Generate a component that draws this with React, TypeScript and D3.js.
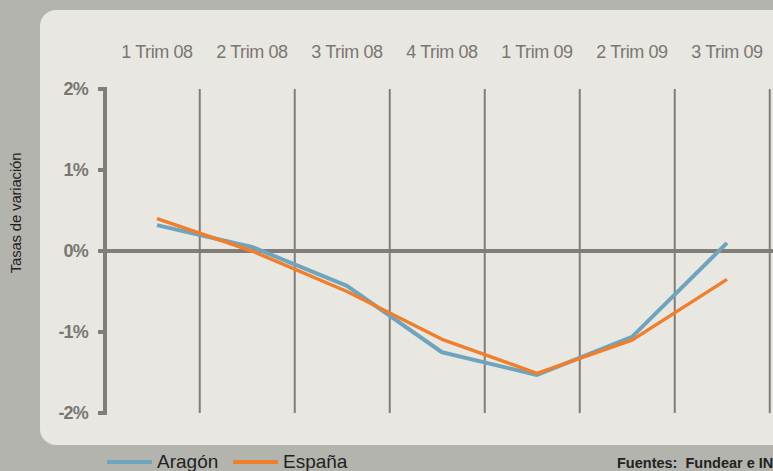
import React from "react";
import * as d3 from "d3";

const categories = ["1 Trim 08", "2 Trim 08", "3 Trim 08", "4 Trim 08", "1 Trim 09", "2 Trim 09", "3 Trim 09"];
const aragon = [0.32, 0.05, -0.43, -1.25, -1.53, -1.06, 0.1];
const espana = [0.4, 0.0, -0.5, -1.09, -1.51, -1.1, -0.35];
const yTicks = [2, 1, 0, -1, -2];
const seriesNames = ["Aragón", "España"];
const yTitle = "Tasas de variación";
const sourceText = "Fuentes:  Fundear e INE";

const W = 773;
const H = 471;
const BG = "#b4b4ae";
const PANEL = "#e9e7e2";
const AXIS = "#817d78";
const TEXT_GREY = "#7a7672";
const BLUE = "#6fa4bd";
const ORANGE = "#f07f2d";
const FONT = "'Liberation Sans', Arial, Helvetica, sans-serif";

export default function App() {
  const x = d3.scalePoint<string>().domain(categories).range([157, 727]);
  const step = x.step();
  const y = d3.scaleLinear().domain([-2, 2]).range([413, 89]);
  const line = d3
    .line<number>()
    .x((_, i) => x(categories[i]) as number)
    .y((d) => y(d));

  const axisX = 105;

  return (
    <svg
      width={W}
      height={H}
      style={{ position: "absolute", left: 0, top: 0, display: "block" }}
      fontFamily={FONT}
    >
      <rect x={0} y={0} width={W} height={H} fill={BG} />
      <rect x={40} y={10} width={W + 40} height={435} rx={16} ry={16} fill={PANEL} />

      {/* y title */}
      <text
        transform={`translate(21,${213}) rotate(-90)`}
        textAnchor="middle"
        fontSize={15}
        fill="#222"
        letterSpacing={-0.2}
      >
        {yTitle}
      </text>

      {/* category labels */}
      {categories.map((c) => (
        <text key={c} x={x(c)} y={58} textAnchor="middle" fontSize={18} fill={TEXT_GREY} letterSpacing={-0.4}>
          {c}
        </text>
      ))}

      {/* vertical gridlines */}
      {categories.map((c) => (
        <line
          key={"g" + c}
          x1={(x(c) as number) + step * 0.45}
          x2={(x(c) as number) + step * 0.45}
          y1={y(2)}
          y2={y(-2)}
          stroke={AXIS}
          strokeWidth={2}
        />
      ))}

      {/* zero line */}
      <line x1={axisX} x2={W} y1={y(0)} y2={y(0)} stroke={AXIS} strokeWidth={4} />

      {/* y axis */}
      <line x1={axisX} x2={axisX} y1={y(2) - 2} y2={y(-2) + 2} stroke={AXIS} strokeWidth={4} />
      {yTicks.map((t) => (
        <g key={t}>
          <line x1={98} x2={axisX} y1={y(t)} y2={y(t)} stroke={AXIS} strokeWidth={4} />
          <text
            x={88}
            y={y(t)}
            dy="0.36em"
            textAnchor="end"
            fontSize={18}
            fontWeight="bold"
            fill={TEXT_GREY}
            letterSpacing={-0.8}
          >
            {`${t}%`}
          </text>
        </g>
      ))}

      {/* series */}
      <path d={line(aragon) || ""} fill="none" stroke={BLUE} strokeWidth={4} strokeLinejoin="round" />
      <path d={line(espana) || ""} fill="none" stroke={ORANGE} strokeWidth={3.5} strokeLinejoin="round" />

      {/* legend */}
      <line x1={107} x2={152} y1={462} y2={462} stroke={BLUE} strokeWidth={4} />
      <text x={157} y={468} fontSize={19} fill="#222">
        {seriesNames[0]}
      </text>
      <line x1={233} x2={278} y1={462} y2={462} stroke={ORANGE} strokeWidth={4} />
      <text x={283} y={468} fontSize={19} fill="#222">
        {seriesNames[1]}
      </text>

      {/* source */}
      <text x={617} y={468} fontSize={14.5} fontWeight="bold" fill="#222" style={{ whiteSpace: "pre" }}>
        {sourceText}
      </text>
    </svg>
  );
}
